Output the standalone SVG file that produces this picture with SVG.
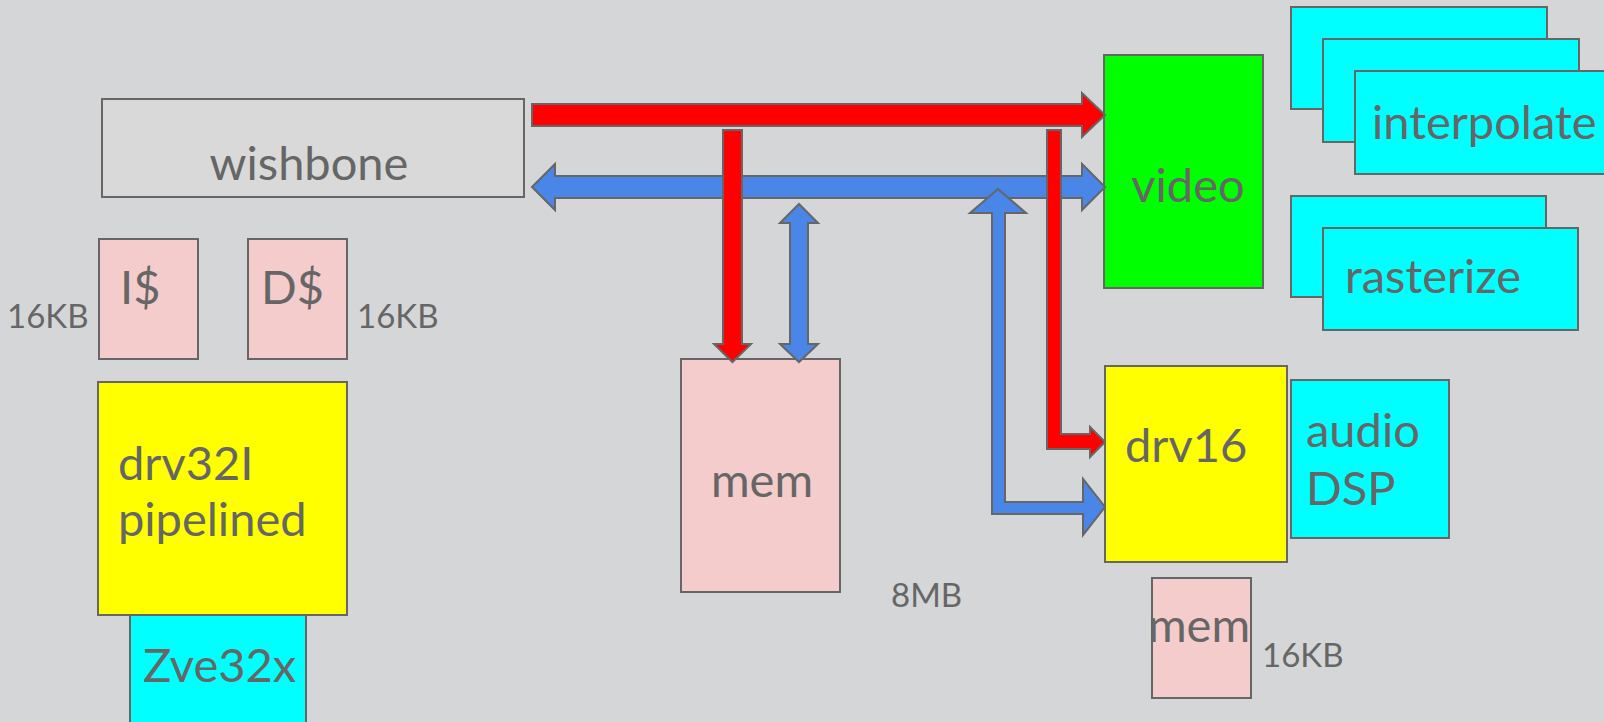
<svg xmlns="http://www.w3.org/2000/svg" width="1604" height="722" viewBox="0 0 1604 722">
<style>
.box{stroke:#666666;stroke-width:2}
.arr{stroke:#666666;stroke-width:2;stroke-linejoin:miter}
.t{font-family:Lato,"Liberation Sans",sans-serif;fill:#666666;font-size:47px}
.s{font-family:Lato,"Liberation Sans",sans-serif;fill:#666666;font-size:33px}
.grey{fill:#d9d9d9}.pink{fill:#f4cccc}.yellow{fill:#ffff00}.cyan{fill:#00ffff}.green{fill:#00ff00}
.red{fill:#ff0000}.blue{fill:#4a86e8}
</style>
<rect width="1604" height="722" fill="#d5d6d8"/>
<g id="wishbone"><rect class="box grey" x="102" y="99" width="422" height="98"/><text class="t" x="309" y="180" text-anchor="middle">wishbone</text></g>
<g id="icache"><rect class="box pink" x="99" y="239" width="99" height="120"/><text class="t" x="120" y="304">I$</text></g>
<g id="dcache"><rect class="box pink" x="248" y="239" width="99" height="120"/><text class="t" x="261" y="304">D$</text></g>
<g id="icache-size"><text class="s" x="7" y="328">16KB</text></g>
<g id="dcache-size"><text class="s" x="357" y="328">16KB</text></g>
<g id="zve32x"><rect class="box cyan" x="130" y="615" width="176" height="112"/><text class="t" x="143" y="682">Zve32x</text></g>
<g id="drv32i"><rect class="box yellow" x="98" y="382" width="249" height="233"/><text class="t" x="118" y="480">drv32I</text><text class="t" x="118" y="536">pipelined</text></g>
<g id="mem"><rect class="box pink" x="681" y="359" width="159" height="233"/><text class="t" x="762" y="497" text-anchor="middle">mem</text></g>
<g id="mem-size"><text class="s" x="891" y="607">8MB</text></g>
<g id="video"><rect class="box green" x="1104" y="55" width="159" height="233"/><text class="t" x="1188" y="202" text-anchor="middle">video</text></g>
<g id="interpolate"><rect class="box cyan" x="1291" y="7" width="256" height="102"/><rect class="box cyan" x="1323" y="39" width="256" height="103"/><rect class="box cyan" x="1355" y="71" width="256" height="103"/><text class="t" x="1372" y="139">interpolate</text></g>
<g id="rasterize"><rect class="box cyan" x="1291" y="196" width="255" height="101"/><rect class="box cyan" x="1323" y="228" width="255" height="102"/><text class="t" x="1345" y="293">rasterize</text></g>
<g id="drv16"><rect class="box yellow" x="1105" y="366" width="182" height="196"/><text class="t" x="1125" y="462">drv16</text></g>
<g id="audio-dsp"><rect class="box cyan" x="1291" y="380" width="158" height="158"/><text class="t" x="1306" y="447">audio</text><text class="t" x="1306" y="505">DSP</text></g>
<g id="mem16"><rect class="box pink" x="1152" y="578" width="99" height="120"/><text class="t" x="1199" y="642" text-anchor="middle">mem</text></g>
<g id="mem16-size"><text class="s" x="1262" y="667">16KB</text></g>
<g id="connectors">
<polygon class="arr blue" points="532,187 555,164 555,176 1082,176 1082,164 1105,187 1082,210 1082,198 555,198 555,210"/>
<polygon class="arr red" points="532,104 1082,104 1082,93 1105,115 1082,137 1082,126 532,126"/>
<polygon class="arr blue" points="799,204 818,223 808,223 808,344 818,344 799,362 780,344 790,344 790,223 780,223"/>
<polygon class="arr blue" points="998,189 1026,213 1005,213 1005,502 1083,502 1083,479 1105,507 1083,535 1083,514 992,514 992,213 970,213"/>
<polygon class="arr red" points="723,130 742,130 742,344 751,344 732.5,362 714,344 723,344"/>
<polygon class="arr red" points="1047,130 1061,130 1061,434 1090,434 1090,427 1105,442 1090,457 1090,449 1047,449"/>
</g>
</svg>
